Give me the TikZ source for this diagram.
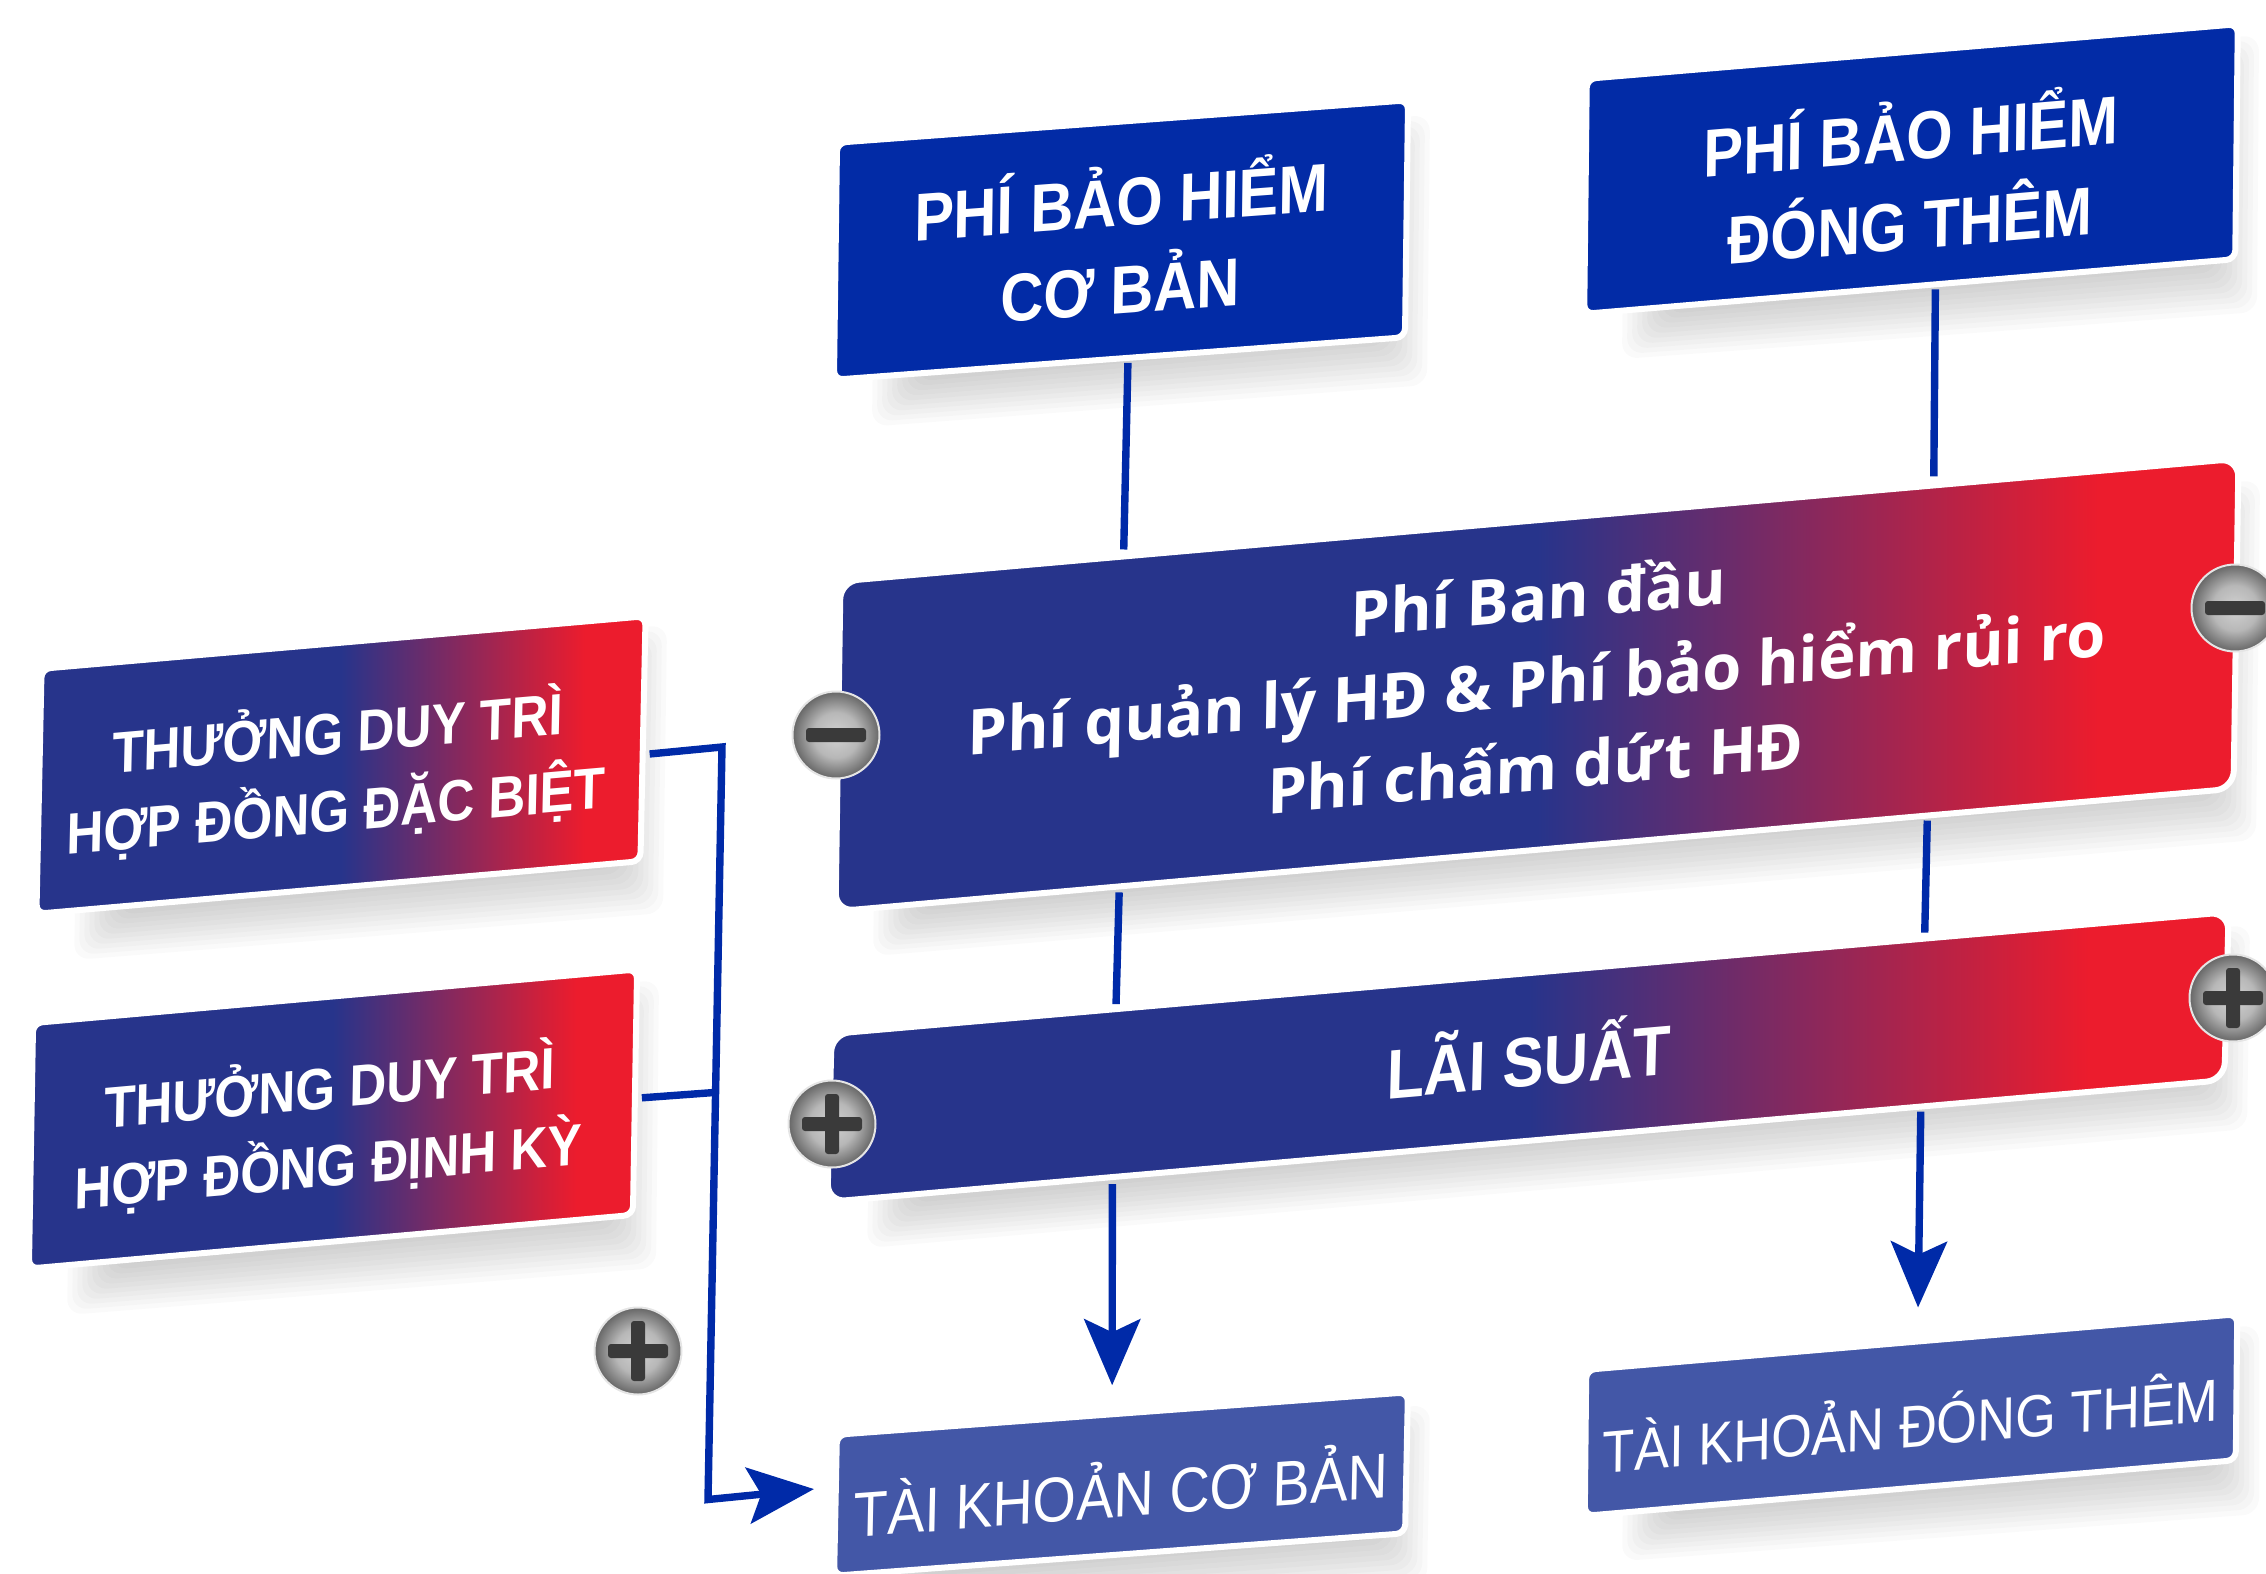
\documentclass[tikz,border=0pt]{standalone}
\usepackage{fontspec}
\setmainfont{Liberation Sans}[FakeStretch=0.88]
\newfontfamily\fc{Open Sans}
\usetikzlibrary{calc,arrows.meta,backgrounds}
\definecolor{topblue}{HTML}{022BA6}
\definecolor{conblue}{HTML}{002AA8}
\definecolor{acct}{HTML}{4357A7}
\definecolor{navy}{HTML}{27348B}
\definecolor{redc}{HTML}{EC1C2D}
\definecolor{barc}{HTML}{3A3A3A}
\pgfdeclarehorizontalshading{bluered}{100bp}{color(0bp)=(navy); color(25bp)=(navy); color(50bp)=(navy); color(70bp)=(redc); color(75bp)=(redc); color(100bp)=(redc)}
\pgfdeclareradialshading{screwsh}{\pgfpoint{0bp}{0bp}}{color(0bp)=(white!82!black); color(13bp)=(white!72!black); color(25bp)=(white!40!black); color(50bp)=(white!40!black)}
\tikzset{
  skewbox/.style n args={4}{rectangle, transform shape, inner sep=0pt, outer sep=0pt, align=center,
    rounded corners=4.5pt, draw=white, line width=3pt, text=white,
    minimum width=#1*0.5pt+3pt, minimum height=#2*0.5pt+3pt, cm={1,#3,#4,1,(0,0)}},
  solidbox/.style={fill=topblue},
  gradbox/.style={shade, shading=bluered},
  acctbox/.style={fill=acct},
  bigcorner/.style={rounded corners=9pt},
  conn/.style={draw=conblue, line width=3.7pt},
  tipped/.style={-{Stealth[length=33pt,width=28pt,inset=6.5pt]}},
  screw/.style={circle, minimum size=43.5pt, inner sep=0pt, shade, shading=screwsh, draw=white!90!black, line width=1pt},
  screwbar/.style={fill=barc, rounded corners=1.5pt},
  shadowstack/.style={fill=black, opacity=0.02, rounded corners=8pt}
}
\pgfdeclarelayer{back}
\pgfsetlayers{back,main}
\newcommand\softshadow[4]{%
  \begin{pgfonlayer}{back}
  \foreach \d in {-25,-20,-15,-10,-5,0,5,10,15,20,25}{
    \path[shadowstack] ([shift={(-\d,-\d)}]#1) -- ([shift={(\d,-\d)}]#2) -- ([shift={(\d,\d)}]#3) -- ([shift={(-\d,\d)}]#4) -- cycle;
  }
  \end{pgfonlayer}}
\newcommand\minusbar[1]{\path[screwbar] ([shift={(-30,-7)}]#1.center) rectangle ([shift={(30,7)}]#1.center);}
\newcommand\plusbar[1]{\minusbar{#1}\path[screwbar] ([shift={(-7,-30)}]#1.center) rectangle ([shift={(7,30)}]#1.center);}
% label placed off the box centre by (dx,dy) in pt
\newcommand\offtext[3]{\raisebox{#2}[0pt][0pt]{\makebox[0pt]{\hspace*{#1}\hspace*{#1}\begin{tabular}{@{}c@{}}#3\end{tabular}}}}
\begin{document}
\begin{tikzpicture}[x=0.5pt,y=-0.5pt]
\useasboundingbox (0,0) rectangle (2266,1574);
% boxes
\node[skewbox={565}{231}{0.0743}{0.013}, solidbox, font={\bfseries\fontsize{33.9}{44}\selectfont}] (a) at (1121,240) {\offtext{0pt}{-12.3pt}{PHÍ BẢO HIỂM\\CƠ BẢN}};
\node[skewbox={645}{229}{0.0839}{0.011}, solidbox, font={\bfseries\fontsize{33.9}{44.5}\selectfont}] (b) at (1911,169) {\offtext{0pt}{-15.2pt}{PHÍ BẢO HIỂM\\ĐÓNG THÊM}};
\node[skewbox={1392}{324}{0.0877}{0.015}, gradbox, bigcorner, font={\fc\bfseries\fontsize{31.5}{42.5}\selectfont}] (c) at (1537,685) {\offtext{0pt}{-8pt}{Phí Ban đầu\\Phí quản lý HĐ \& Phí bảo hiểm rủi ro\\Phí chấm dứt HĐ}};
\node[skewbox={598}{239}{0.087}{0.021}, gradbox, font={\bfseries\fontsize{29.1}{39}\selectfont}] (d) at (341,765) {\offtext{-2pt}{-12pt}{THƯỞNG DUY TRÌ\\HỢP ĐỒNG ĐẶC BIỆT}};
\node[skewbox={598}{239.5}{0.0888}{0.017}, gradbox, font={\bfseries\fontsize{29.1}{39}\selectfont}] (e) at (333,1119) {\offtext{-2pt}{-12.5pt}{THƯỞNG DUY TRÌ\\HỢP ĐỒNG ĐỊNH KỲ}};
\node[skewbox={1391}{162}{0.0872}{0.025}, gradbox, bigcorner, font={\bfseries\fontsize{35}{37}\selectfont}] (f) at (1528,1057) {\offtext{0.5pt}{-11pt}{LÃI SUẤT}};
\node[skewbox={565}{135}{0.0743}{0.02}, acctbox, font={\fontsize{31.7}{37}\selectfont}] (g) at (1121,1484) {\offtext{0pt}{-14.3pt}{TÀI KHOẢN CƠ BẢN}};
\node[skewbox={645}{140}{0.0854}{0.01}, acctbox, font={\fontsize{29.7}{37}\selectfont}] (h) at (1911,1415) {\offtext{0pt}{-14.5pt}{TÀI KHOẢN ĐÓNG THÊM}};
% shadows
\softshadow{900,180}{1405,140}{1402,360}{897,401.5}
\softshadow{1650,110}{2234,60}{2232,287}{1647,334}
\softshadow{904,620}{2235,505}{2231,815}{898,931}
\softshadow{105,700}{642,650}{638,888}{99,935}
\softshadow{97,1055}{634,1005}{631,1243}{92,1290}
\softshadow{897,1070}{2225,950}{2222,1104}{892,1223}
\softshadow{900,1470}{1405,1430}{1402,1559}{897,1597}
\softshadow{1650,1405}{2234,1350}{2234,1489}{1647,1536}
% vertical connectors
\draw[conn, shorten <=2.5pt, shorten >=3.5pt] ($(a.south west)!0.515!(a.south east)$) -- ($(c.north west)!0.2025!(c.north east)$);
\draw[conn, shorten <=2.5pt, shorten >=4.5pt] ($(b.south west)!0.5395!(b.south east)$) -- ($(c.north west)!0.782!(c.north east)$);
\draw[conn, shorten <=3pt, shorten >=2.5pt] ($(c.south west)!0.203!(c.south east)$) -- ($(f.north west)!0.2035!(f.north east)$);
\draw[conn, shorten <=2.5pt, shorten >=3pt] ($(c.south west)!0.781!(c.south east)$) -- ($(f.north west)!0.7824!(f.north east)$);
\draw[conn, tipped, shorten <=3.5pt, shorten >=14.5pt] ($(f.south west)!0.204!(f.south east)$) -- ($(g.north west)!0.482!(g.north east)$);
\draw[conn, tipped, shorten <=2.5pt, shorten >=17pt] ($(f.south west)!0.7827!(f.south east)$) -- ($(h.north west)!0.509!(h.north east)$);
% bonus bracket
\coordinate (jtop) at (722,747);
\coordinate (jbot) at (708,1499.5);
\draw[conn, tipped, shorten <=3.5pt, shorten >=11pt, miter limit=4] ($(d.south east)!0.435!(d.north east)$) -- (jtop) -- (jbot) -- ($(g.north west)!0.37!(g.south west)$);
\draw[conn, shorten <=3.5pt] ($(e.south east)!0.475!(e.north east)$) -- ($(jtop)!0.459!(jbot)$);
% screws
\node[screw] (s1) at (836,735) {}; \minusbar{s1}
\node[screw] (s2) at (2235,608) {}; \minusbar{s2}
\node[screw] (s3) at (832,1124) {}; \plusbar{s3}
\node[screw] (s4) at (2233,998) {}; \plusbar{s4}
\node[screw] (s5) at (638,1351) {}; \plusbar{s5}
\end{tikzpicture}
\end{document}
